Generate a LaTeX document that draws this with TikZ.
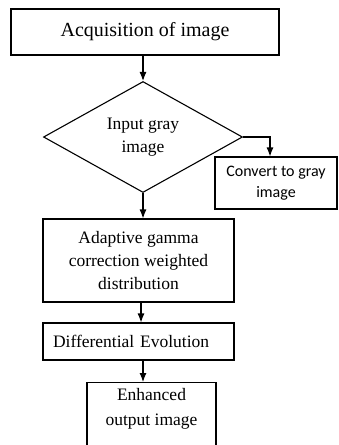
\documentclass[tikz,border=0pt]{standalone}
\usepackage{fontspec}
\setmainfont{Liberation Serif}
\newfontfamily\calibrifont{Carlito}
\usetikzlibrary{shapes.geometric,arrows.meta}

\begin{document}
\begin{tikzpicture}[x=1pt, y=-1pt, >={Latex[length=9pt,width=7pt]}, line width=1.1pt,
    box/.style={draw, rectangle, align=center, inner sep=0pt,
        font=\fontsize{17.5}{23}\selectfont},
    decision/.style={draw, diamond, align=center, inner sep=0pt,
        font=\fontsize{17.5}{23}\selectfont}]
    \useasboundingbox (0,0) rectangle (338,445);

    % Acquisition
    \node[box, minimum width=268pt, minimum height=46pt,
        font=\fontsize{20}{24}\selectfont] (acq) at (145,32) {Acquisition of image};

    % Decision
    \node[decision, minimum width=199pt, minimum height=111pt] (inp) at (143,137)
        {Input gray\\image};

    % Convert branch
    \node[box, minimum width=122pt, minimum height=52pt,
        font=\calibrifont\fontsize{16}{21}\selectfont] (conv) at (276,183)
        {Convert to gray\\image};

    % Gamma correction
    \node[box, minimum width=191pt, minimum height=83pt] (agc) at (138.5,260.5)
        {Adaptive gamma\\correction weighted\\distribution};

    % Differential evolution
    \node[box, minimum width=191pt, minimum height=37pt, text width=171pt,
        align=left] (de) at (138.5,341.5) {Differential Evolution};

    % Output
    \node[box, minimum width=129pt, anchor=north, inner ysep=6pt,
        text depth=40pt, font=\fontsize{17.5}{25}\selectfont] (enh) at (151.5,382)
        {Enhanced\\output image};

    % Arrows
    \draw[->] (acq.south -| inp.north) -- (inp.north);
    \draw[->] (inp.east) -| ([xshift=-6pt]conv.north);
    \draw[->] (inp.south) -- (inp.south |- agc.north);
    \draw[->] ([xshift=2.5pt]agc.south) -- ([xshift=2.5pt]de.north);
    \draw[->] ([xshift=4.5pt]de.south) -- ([xshift=-8.5pt]enh.north);
\end{tikzpicture}
\end{document}
